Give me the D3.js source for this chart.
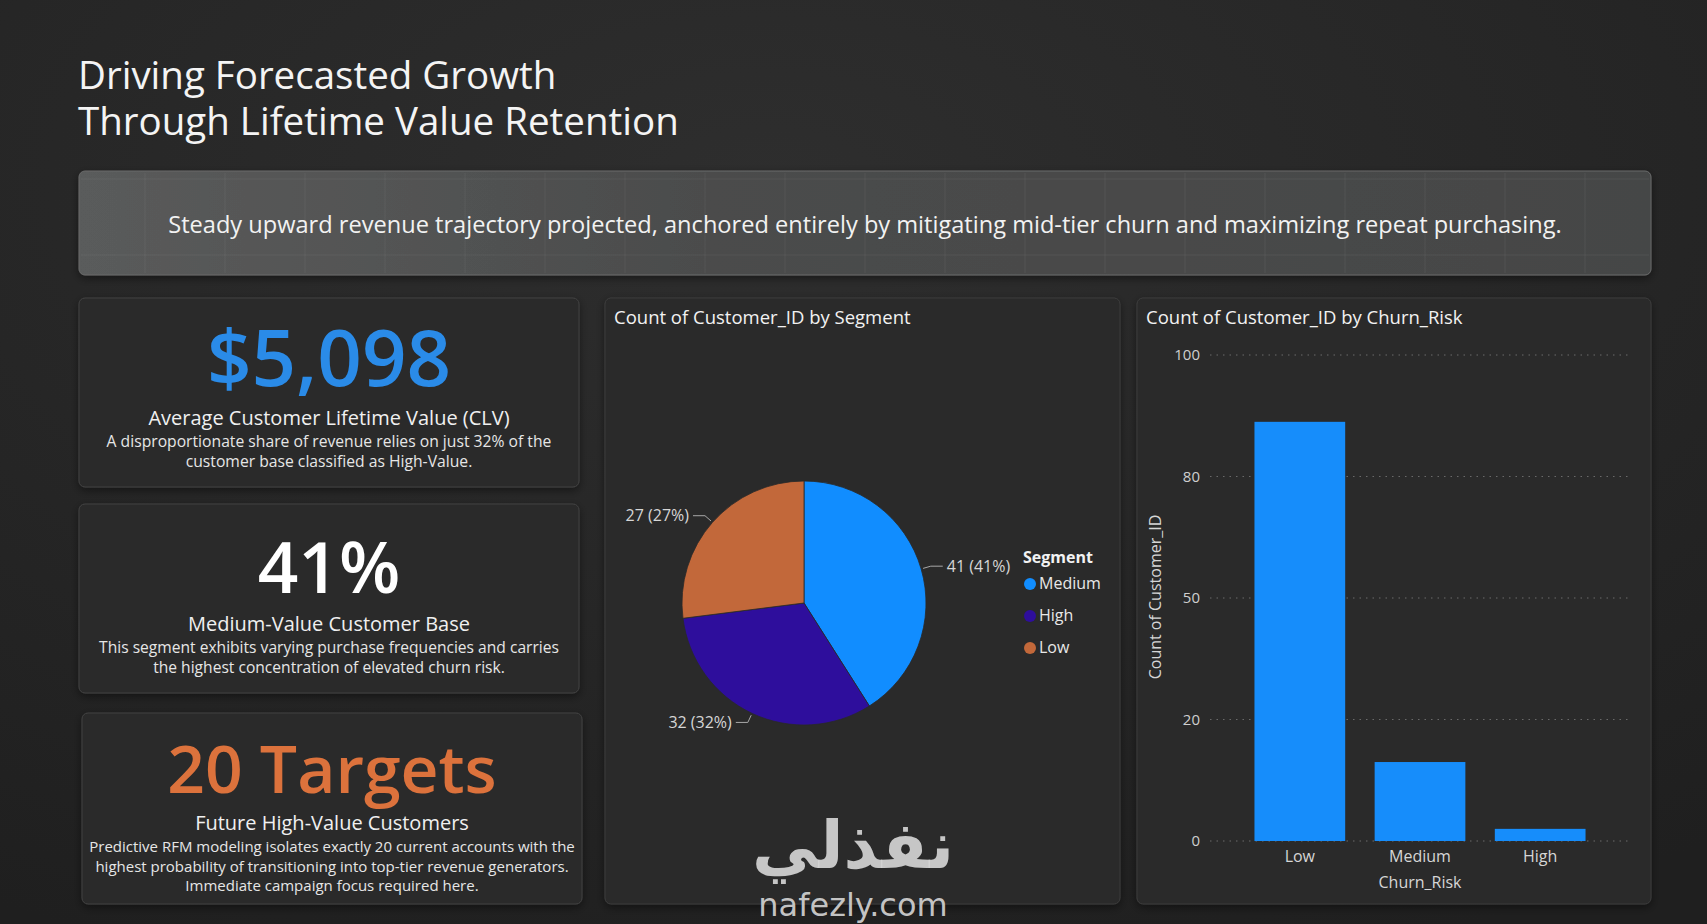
<!DOCTYPE html>
<html>
<head>
<meta charset="utf-8">
<script src="https://cdn.jsdelivr.net/npm/d3@7"></script>
<style>
  body { margin: 0; background: #232323; overflow: hidden; }
  text { font-family: "Open Sans", "Noto Sans", sans-serif; }
</style>
</head>
<body>
<div id="dash"></div>
<script>
// ---- data ----
const titleLines = ["Driving Forecasted Growth", "Through Lifetime Value Retention"];
const bannerText = "Steady upward revenue trajectory projected, anchored entirely by mitigating mid-tier churn and maximizing repeat purchasing.";

const kpiValues = ["$5,098", "41%", "20 Targets"];
const kpiTitles = ["Average Customer Lifetime Value (CLV)", "Medium-Value Customer Base", "Future High-Value Customers"];
const kpiNotes = [
  ["A disproportionate share of revenue relies on just 32% of the", "customer base classified as High-Value."],
  ["This segment exhibits varying purchase frequencies and carries", "the highest concentration of elevated churn risk."],
  ["Predictive RFM modeling isolates exactly 20 current accounts with the", "highest probability of transitioning into top-tier revenue generators.", "Immediate campaign focus required here."]
];
const kpiColors = ["#2a8be8", "#ffffff", "#dc723c"];

const segments = ["Medium", "High", "Low"];
const segmentCounts = [41, 32, 27];
const segmentColors = ["#118dff", "#2e0e9c", "#c2683a"];

const churnLevels = ["Low", "Medium", "High"];
const churnCounts = [89, 13, 2];
const churnTicks = [0, 20, 50, 80, 100];

// ---- canvas ----
let svgWidth = 1707;
let svgHeight = 924;

let svg = d3.select("#dash")
  .append("svg")
  .attr("width", svgWidth)
  .attr("height", svgHeight);

let defs = svg.append("defs");

let bg = defs.append("radialGradient").attr("id", "bg")
  .attr("cx", "45%").attr("cy", "20%").attr("r", "90%");
bg.append("stop").attr("offset", "0%").attr("stop-color", "#2e2e2e");
bg.append("stop").attr("offset", "100%").attr("stop-color", "#1f1f1f");

let band = defs.append("linearGradient").attr("id", "band")
  .attr("x1", "0%").attr("x2", "100%");
band.append("stop").attr("offset", "0%").attr("stop-color", "#5a5b5b");
band.append("stop").attr("offset", "40%").attr("stop-color", "#4b4c4c");
band.append("stop").attr("offset", "100%").attr("stop-color", "#454646");

let shadow = defs.append("filter").attr("id", "shadow")
  .attr("x", "-10%").attr("y", "-10%").attr("width", "120%").attr("height", "130%");
shadow.append("feDropShadow")
  .attr("dx", 0).attr("dy", 3).attr("stdDeviation", 4)
  .attr("flood-color", "#000").attr("flood-opacity", 0.45);

svg.append("rect")
  .attr("width", svgWidth).attr("height", svgHeight)
  .attr("fill", "url(#bg)");

// ---- title ----
svg.append("g").selectAll("text")
  .data(titleLines)
  .join("text")
  .attr("x", 78)
  .attr("y", (d, i) => 89 + i * 46)
  .attr("fill", "#f4f4f4")
  .attr("font-size", 38.5)
  .text(d => d);

// ---- banner ----
let bannerBox = { x: 79, y: 171, w: 1572, h: 104 };
let bannerG = svg.append("g").attr("filter", "url(#shadow)");
bannerG.append("rect")
  .attr("x", bannerBox.x).attr("y", bannerBox.y)
  .attr("width", bannerBox.w).attr("height", bannerBox.h)
  .attr("rx", 6)
  .attr("fill", "url(#band)")
  .attr("stroke", "#6a6b6b");

// faint grid inside the banner
let gridG = svg.append("g").attr("stroke", "#ffffff").attr("stroke-opacity", 0.06);
gridG.selectAll("line.v")
  .data(d3.range(bannerBox.x + 66, bannerBox.x + bannerBox.w, 80))
  .join("line")
  .attr("class", "v")
  .attr("x1", d => d).attr("x2", d => d)
  .attr("y1", bannerBox.y + 2).attr("y2", bannerBox.y + bannerBox.h - 2);
gridG.selectAll("line.h")
  .data([bannerBox.y + 8, bannerBox.y + bannerBox.h - 20])
  .join("line")
  .attr("class", "h")
  .attr("x1", bannerBox.x + 2).attr("x2", bannerBox.x + bannerBox.w - 2)
  .attr("y1", d => d).attr("y2", d => d);

svg.append("text")
  .attr("x", bannerBox.x + bannerBox.w / 2)
  .attr("y", bannerBox.y + 62)
  .attr("text-anchor", "middle")
  .attr("fill", "#f2f2f2")
  .attr("font-size", 23.6)
  .text(bannerText);

// ---- KPI cards ----
let cardTops = [298, 504, 713];
let cardHeights = [189, 189, 191];
let valueSizes = [78, 71, 66];
let valueY = [88, 89, 80];
let titleY = [127, 127, 117];
let noteY = [149, 149, 139];
let noteSizes = [15.7, 15.6, 15];

let cards = svg.append("g").selectAll("g")
  .data(kpiValues)
  .join("g")
  .attr("transform", (d, i) => `translate(${i === 2 ? 82 : 79}, ${cardTops[i]})`);

cards.append("rect")
  .attr("width", 500)
  .attr("height", (d, i) => cardHeights[i])
  .attr("rx", 6)
  .attr("fill", "#2b2b2b")
  .attr("stroke", "#424242")
  .attr("filter", "url(#shadow)");

cards.append("text")
  .attr("x", 250)
  .attr("y", (d, i) => valueY[i])
  .attr("text-anchor", "middle")
  .attr("font-weight", 600)
  .attr("font-size", (d, i) => valueSizes[i])
  .attr("fill", (d, i) => kpiColors[i])
  .text(d => d);

cards.append("text")
  .attr("x", 250)
  .attr("y", (d, i) => titleY[i])
  .attr("text-anchor", "middle")
  .attr("font-size", 20)
  .attr("fill", "#f0f0f0")
  .text((d, i) => kpiTitles[i]);

cards.each(function(d, i) {
  d3.select(this).selectAll("text.note")
    .data(kpiNotes[i])
    .join("text")
    .attr("class", "note")
    .attr("x", 250)
    .attr("y", (n, j) => noteY[i] + j * 19.5)
    .attr("text-anchor", "middle")
    .attr("font-size", noteSizes[i])
    .attr("fill", "#e6e6e6")
    .text(n => n);
});

// ---- panels ----
let panels = [
  { x: 605, y: 298, w: 515, h: 606, title: "Count of Customer_ID by Segment" },
  { x: 1137, y: 298, w: 514, h: 606, title: "Count of Customer_ID by Churn_Risk" }
];

let panelG = svg.append("g").selectAll("g")
  .data(panels)
  .join("g")
  .attr("transform", d => `translate(${d.x}, ${d.y})`);

panelG.append("rect")
  .attr("width", d => d.w).attr("height", d => d.h)
  .attr("rx", 6)
  .attr("fill", "#2a2a2a")
  .attr("stroke", "#3c3c3c")
  .attr("filter", "url(#shadow)");

panelG.append("text")
  .attr("x", 9)
  .attr("y", 26)
  .attr("font-size", 18.5)
  .attr("fill", "#f2f2f2")
  .text(d => d.title);

// ---- pie: Count of Customer_ID by Segment ----
let pieCx = 804, pieCy = 603, radius = 122;
let total = d3.sum(segmentCounts);

let pie = d3.pie().sort(null).value(d => d);
let arc = d3.arc().innerRadius(0).outerRadius(radius);
let arcs = pie(segmentCounts);

let pieG = svg.append("g").attr("transform", `translate(${pieCx}, ${pieCy})`);

pieG.selectAll("path")
  .data(arcs)
  .join("path")
  .attr("d", arc)
  .attr("fill", (d, i) => segmentColors[i])
  .attr("stroke", "#2a2a2a")
  .attr("stroke-width", 0.8);

function leader(d) {
  let a = (d.startAngle + d.endAngle) / 2;
  let side = Math.sin(a) >= 0 ? 1 : -1;
  let p1 = [(radius + 2) * Math.sin(a), -(radius + 2) * Math.cos(a)];
  let p2 = [(radius + 10) * Math.sin(a), -(radius + 10) * Math.cos(a)];
  let p3 = [p2[0] + side * 12, p2[1]];
  return { pts: [p1, p2, p3], side: side };
}

pieG.selectAll("polyline")
  .data(arcs)
  .join("polyline")
  .attr("points", d => leader(d).pts.map(p => p.join(",")).join(" "))
  .attr("fill", "none")
  .attr("stroke", "#a8a8a8")
  .attr("stroke-width", 1);

pieG.selectAll("text.lbl")
  .data(arcs)
  .join("text")
  .attr("class", "lbl")
  .attr("x", d => { let l = leader(d); return l.pts[2][0] + l.side * 4; })
  .attr("y", d => leader(d).pts[2][1])
  .attr("dy", "0.35em")
  .attr("text-anchor", d => leader(d).side > 0 ? "start" : "end")
  .attr("font-size", 16)
  .attr("fill", "#d6d6d6")
  .text(d => `${d.value} (${d3.format(".0%")(d.value / total)})`);

// legend
let legendG = svg.append("g").attr("transform", "translate(1023, 563)");
legendG.append("text")
  .attr("font-size", 16)
  .attr("font-weight", 700)
  .attr("fill", "#f2f2f2")
  .text("Segment");
let legendItems = legendG.selectAll("g.item")
  .data(segments)
  .join("g")
  .attr("class", "item")
  .attr("transform", (d, i) => `translate(0, ${26 + i * 32})`);
legendItems.append("circle")
  .attr("cx", 7).attr("cy", -5).attr("r", 6)
  .attr("fill", (d, i) => segmentColors[i]);
legendItems.append("text")
  .attr("x", 16)
  .attr("font-size", 16)
  .attr("fill", "#e8e8e8")
  .text(d => d);

// ---- bar: Count of Customer_ID by Churn_Risk ----
let plot = { left: 1210, right: 1630, top: 355, bottom: 841 };
let tickStep = (plot.bottom - plot.top) / (churnTicks.length - 1);

// tick labels are evenly spaced, so the value axis is piecewise linear
let yScale = d3.scaleLinear()
  .domain(churnTicks)
  .range(churnTicks.map((d, i) => plot.bottom - i * tickStep));

let xScale = d3.scaleBand()
  .domain(churnLevels)
  .range([plot.left, plot.right])
  .paddingInner(0.245)
  .paddingOuter(0.37);

let barG = svg.append("g");

// gridlines
barG.append("g")
  .selectAll("line")
  .data(churnTicks)
  .join("line")
  .attr("x1", plot.left).attr("x2", plot.right)
  .attr("y1", d => yScale(d)).attr("y2", d => yScale(d))
  .attr("stroke", "#6a6a6a")
  .attr("stroke-dasharray", "1.5,5");

let leftAxis = d3.axisLeft(yScale).tickValues(churnTicks).tickSize(0).tickPadding(0);
barG.append("g")
  .attr("transform", `translate(${plot.left - 10}, 0)`)
  .call(leftAxis)
  .call(g => g.select(".domain").remove())
  .call(g => g.selectAll("text")
    .attr("font-size", 15)
    .attr("fill", "#cfcfcf")
    .attr("font-family", "'Open Sans', sans-serif"));

barG.append("g")
  .selectAll("rect")
  .data(churnCounts)
  .join("rect")
  .attr("x", (d, i) => xScale(churnLevels[i]))
  .attr("y", d => yScale(d))
  .attr("width", xScale.bandwidth())
  .attr("height", d => plot.bottom - yScale(d))
  .attr("fill", "#168dfb");

let bottomAxis = d3.axisBottom(xScale).tickSize(0).tickPadding(10);
barG.append("g")
  .attr("transform", `translate(0, ${plot.bottom})`)
  .call(bottomAxis)
  .call(g => g.select(".domain").remove())
  .call(g => g.selectAll("text")
    .attr("font-size", 16)
    .attr("fill", "#d6d6d6")
    .attr("font-family", "'Open Sans', sans-serif"));

barG.append("text")
  .attr("x", xScale("Medium") + xScale.bandwidth() / 2)
  .attr("y", 888)
  .attr("text-anchor", "middle")
  .attr("font-size", 16)
  .attr("fill", "#d6d6d6")
  .text("Churn_Risk");

barG.append("text")
  .attr("transform", "rotate(-90)")
  .attr("x", -(plot.top + plot.bottom) / 2 + 1)
  .attr("y", 1161)
  .attr("text-anchor", "middle")
  .attr("font-size", 16)
  .attr("fill", "#d6d6d6")
  .text("Count of Customer_ID");

// ---- watermark ----
let wm = svg.append("g").attr("fill", "#d4d4d4").attr("fill-opacity", 0.92);
wm.append("text")
  .attr("x", 853).attr("y", 868)
  .attr("text-anchor", "middle")
  .attr("font-size", 66)
  .attr("font-weight", 700)
  .style("font-family", "'DejaVu Sans', sans-serif")
  .text("نفذلي");
wm.append("text")
  .attr("x", 853).attr("y", 916)
  .attr("text-anchor", "middle")
  .attr("font-size", 32)
  .style("font-family", "'DejaVu Sans', sans-serif")
  .text("nafezly.com");
</script>
</body>
</html>
